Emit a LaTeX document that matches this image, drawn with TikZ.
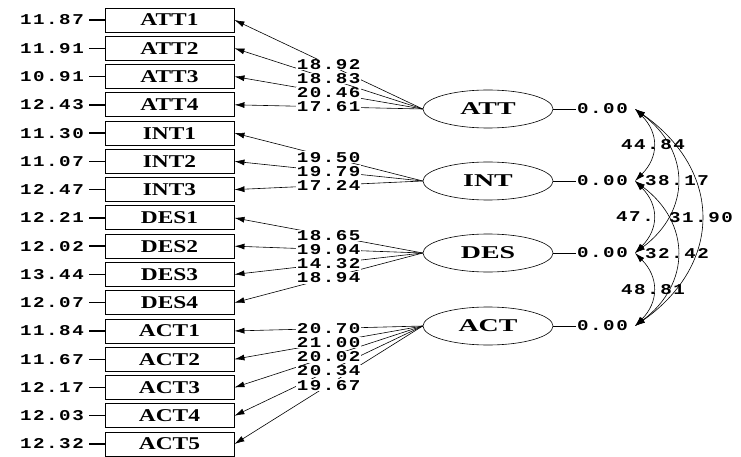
\documentclass[tikz,border=0pt]{standalone}
\usepackage{fontspec}
\setmainfont{Liberation Serif}
\newfontfamily\numfont{Liberation Mono}[FakeStretch=1.28,LetterSpace=10]
\newfontfamily\boxfont{Liberation Serif}[FakeStretch=1.3]
\newfontfamily\latfont{Liberation Serif}[FakeStretch=1.55]
\usepackage{tikz}
\usetikzlibrary{arrows.meta, shapes.geometric}

\begin{document}
\begin{tikzpicture}[x=1pt, y=-1pt]
            \tikzset{
                indicator/.style={draw, shape = rectangle, line width=0.9pt, minimum width=129pt, minimum height=24pt, inner sep=0pt, font=\boxfont\bfseries\fontsize{18}{18}\selectfont},
                latent/.style={draw, shape = ellipse, line width=0.6pt, minimum width=130pt, minimum height=38pt, inner sep=0pt, font=\latfont\bfseries\fontsize{18}{18}\selectfont},
                value/.style={font=\numfont\bfseries\fontsize{15}{15}\selectfont, inner sep=1pt},
                loading/.style={value, fill=white, text height=10pt, text depth=0pt, inner sep=0.8pt},
                path_arrow/.style={line width=0.6pt, -{Latex[length=10pt,width=6pt]}},
                cov_arrow/.style={line width=0.6pt, {Latex[length=10pt,width=6pt]}-{Latex[length=10pt,width=6pt]}}
            }
            \useasboundingbox (0,0) rectangle (741,457);
            % observed variables and their error variances
            \foreach \name/\err [count=\i from 0] in {ATT1/11.87, ATT2/11.91, ATT3/10.91, ATT4/12.43,
                INT1/11.30, INT2/11.07, INT3/12.47, DES1/12.21, DES2/12.02, DES3/13.44, DES4/12.07,
                ACT1/11.84, ACT2/11.67, ACT3/12.17, ACT4/12.03, ACT5/12.32} {
                \node[indicator] (\name) at (169.5, {20+28.27*\i}) {\name};
                \node[value, anchor=east] (e\name) at (85, {20+28.27*\i}) {\err};
                \draw[line width=1.4pt, shorten <=4pt] (e\name) -- (\name);
            }
            % latent variables
            \foreach \lat/\y in {ATT/109, INT/181, DES/253, ACT/326} {
                \node[latent] (\lat) at (488,\y) {\lat};
                \node[value, anchor=west] (v\lat) at (576,\y) {0.00};
                \draw[line width=0.6pt] (\lat) -- (v\lat);
                \coordinate (t\lat) at (635,\y);
            }
            % loadings
            \foreach \lat/\ind in {ATT/ATT1, ATT/ATT2, ATT/ATT3, ATT/ATT4, INT/INT1, INT/INT2, INT/INT3,
                DES/DES1, DES/DES2, DES/DES3, DES/DES4, ACT/ACT1, ACT/ACT2, ACT/ACT3, ACT/ACT4, ACT/ACT5}
                \draw[path_arrow] (\lat.west) -- coordinate[pos=0.5] (m\ind) (\ind.east);
            \foreach \ind/\val in {ATT1/18.92, ATT2/18.83, ATT3/20.46, ATT4/17.61, INT1/19.50, INT2/19.79,
                INT3/17.24, DES1/18.65, DES2/19.04, DES3/14.32, DES4/18.94, ACT1/20.70, ACT2/21.00,
                ACT3/20.02, ACT4/20.34, ACT5/19.67}
                \node[loading] (l\ind) at (m\ind) {\val};
            % covariances
            \draw[cov_arrow] (tATT) .. controls +(24,24) and +(24,-24) .. node[value] (cAI) {44.84} (tINT);
            \draw[cov_arrow] (tINT) .. controls +(24,24) and +(24,-24) .. node[value, xshift=-18pt] (cID) {47.} (tDES);
            \draw[cov_arrow] (tDES) .. controls +(24,24) and +(24,-24) .. node[value] (cDA) {48.81} (tACT);
            \draw[cov_arrow] (tATT) .. controls +(56,42) and +(56,-42) .. node[value] (cAD) {38.17} (tDES);
            \draw[cov_arrow] (tINT) .. controls +(56,42) and +(56,-42) .. node[value] (cIA) {32.42} (tACT);
            \draw[cov_arrow] (tATT) .. controls +(88,62) and +(88,-62) .. node[value] (cAA) {31.90} (tACT);
        \end{tikzpicture}
\end{document}
